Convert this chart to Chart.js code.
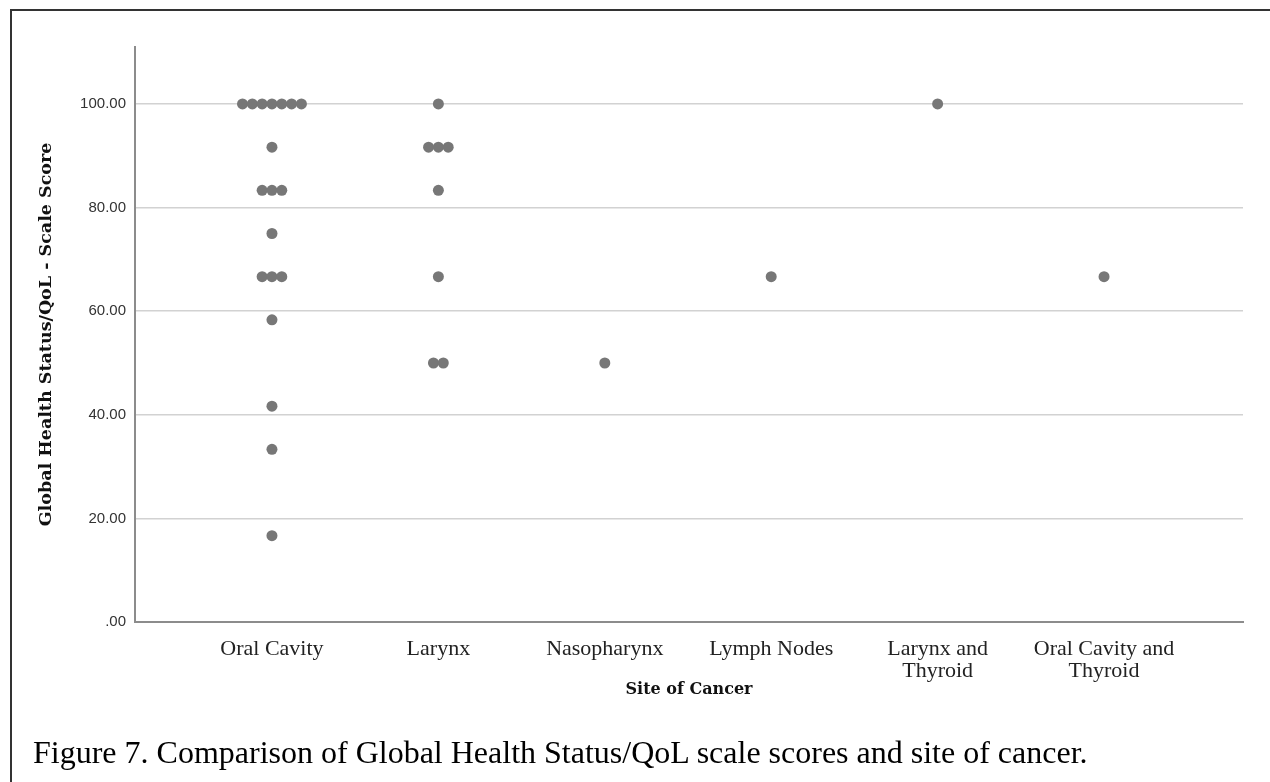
<!DOCTYPE html>
<html>
<head>
<meta charset="utf-8">
<script src="https://cdn.jsdelivr.net/npm/chart.js@4.4.0/dist/chart.umd.min.js"></script>
<style>
  html, body { margin: 0; padding: 0; background: #fff; }
  #wrap { position: relative; width: 1270px; height: 782px; overflow: hidden; }
  #frame { position: absolute; left: 10px; top: 9px; width: 1300px; height: 800px;
           border-top: 2px solid #333; border-left: 2px solid #333; }
  #caption { position: absolute; left: 33px; top: 736px; line-height: 1;
             font-family: 'Liberation Serif', 'Times New Roman', serif; font-size: 32px;
             color: #000; white-space: nowrap; }
  canvas { position: absolute; left: 0; top: 0; }
</style>
</head>
<body>
<div id="wrap">
  <canvas id="dotChart" width="1270" height="782"></canvas>
  <div id="frame"></div>
  <div id="caption">Figure 7. Comparison of Global Health Status/QoL scale scores and site of cancer.</div>
</div>
<script>
// site names (tick labels) and the scores of each patient per site
const siteLabels = ['Oral Cavity', 'Larynx', 'Nasopharynx', 'Lymph Nodes',
  ['Larynx and', 'Thyroid'], ['Oral Cavity and', 'Thyroid']];

const oralCavity = [100, 100, 100, 100, 100, 100, 100, 91.67, 83.33, 83.33, 83.33,
  75, 66.67, 66.67, 66.67, 58.33, 41.67, 33.33, 16.67];
const larynx = [100, 91.67, 91.67, 91.67, 83.33, 66.67, 50, 50];
const nasopharynx = [50];
const lymphNodes = [66.67];
const larynxThyroid = [100];
const oralCavityThyroid = [66.67];

const yTicks = [0, 20, 40, 60, 80, 100];

const yTitle = 'Global Health Status/QoL - Scale Score';
const xTitle = 'Site of Cancer';

const scoresBySite = [oralCavity, larynx, nasopharynx, lymphNodes, larynxThyroid, oralCavityThyroid];

// equal scores sit side by side, like a dot plot
const dotStep = 0.059;

function dotPoints () {
  const points = [];
  scoresBySite.forEach((scores, i) => {
    const counts = {};
    scores.forEach(v => { counts[v] = (counts[v] || 0) + 1; });
    Object.keys(counts).forEach(key => {
      const n = counts[key];
      for (let k = 0; k < n; k++) {
        points.push({ x: i + (k - (n - 1) / 2) * dotStep, y: Number(key) });
      }
    });
  });
  return points;
}

// axis titles, centred on the plot area
const axisTitles = {
  id: 'axisTitles',
  afterDraw (chart) {
    const { ctx, chartArea } = chart;
    const midX = (chartArea.left + chartArea.right) / 2;
    const midY = (chartArea.top + chartArea.bottom) / 2;
    ctx.save();
    ctx.fillStyle = '#111';
    ctx.textAlign = 'center';
    ctx.textBaseline = 'middle';
    ctx.font = 'bold 16px "DejaVu Serif"';
    ctx.fillText(xTitle, midX, chartArea.bottom + 68);
    ctx.font = 'bold 17.5px "DejaVu Serif"';
    ctx.translate(46, midY);
    ctx.rotate(-Math.PI / 2);
    ctx.fillText(yTitle, 0, 0);
    ctx.restore();
  }
};

const axisColor = '#8c8c8c';

new Chart(document.getElementById('dotChart'), {
  type: 'scatter',
  data: {
    datasets: [{
      data: dotPoints(),
      backgroundColor: '#777777',
      borderWidth: 0,
      pointRadius: 5.5,
      pointHoverRadius: 5.5
    }]
  },
  plugins: [axisTitles],
  options: {
    responsive: false,
    animation: false,
    layout: { padding: { top: 47, right: 27, left: 0, bottom: 0 } },
    plugins: { legend: { display: false }, tooltip: { enabled: false } },
    scales: {
      x: {
        type: 'linear',
        min: -0.823,
        max: 5.835,
        afterBuildTicks: scale => { scale.ticks = siteLabels.map((l, i) => ({ value: i })); },
        afterFit: scale => { scale.height = 160; },
        grid: { display: false },
        border: { color: axisColor, width: 2 },
        ticks: {
          autoSkip: false,
          maxRotation: 0,
          padding: 8,
          color: '#222',
          font: { family: "'Liberation Serif'", size: 22, lineHeight: 1.0 },
          callback: v => siteLabels[v]
        }
      },
      y: {
        min: 0,
        max: 111,
        afterBuildTicks: scale => { scale.ticks = yTicks.map(v => ({ value: v })); },
        afterFit: scale => { scale.width = 135; },
        grid: { color: '#d2d2d2', lineWidth: 1.5, drawTicks: false },
        border: { color: axisColor, width: 2 },
        ticks: {
          padding: 9,
          color: '#333',
          font: { family: "'Liberation Sans'", size: 15 },
          callback: v => (v === 0 ? '.00' : v.toFixed(2))
        }
      }
    }
  }
});
</script>
</body>
</html>
